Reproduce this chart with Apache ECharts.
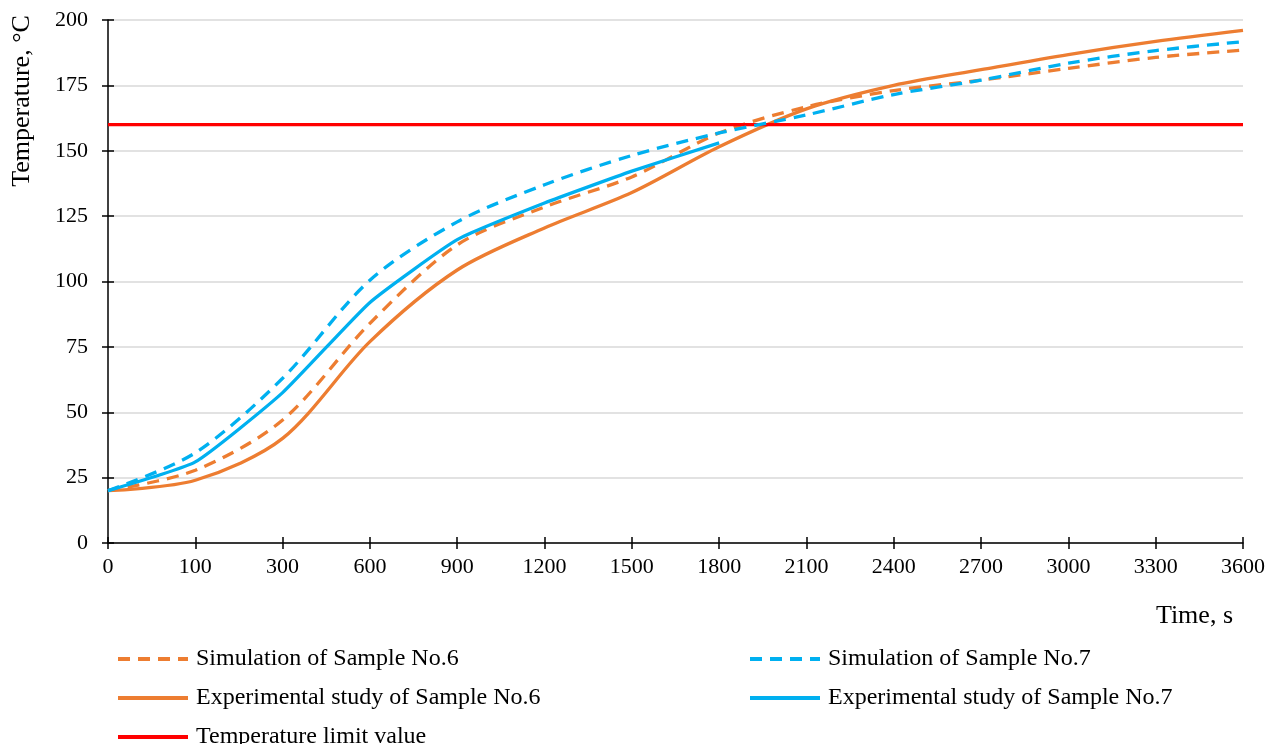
<!DOCTYPE html>
<html>
<head>
<meta charset="utf-8">
<script src="https://cdn.jsdelivr.net/npm/echarts@6/dist/echarts.min.js"></script>
<style>
  html, body { margin: 0; padding: 0; background: #fff; }
  #chart { width: 1280px; height: 744px; }
</style>
</head>
<body>
<div id="chart"></div>
<script>
// categories (time, s)
var times = ['0', '100', '300', '600', '900', '1200', '1500', '1800', '2100', '2400', '2700', '3000', '3300', '3600'];

// series values, °C
var sim6 = [20, 27.8, 47, 84, 114, 128.5, 140, 156.8, 166.8, 173, 177, 181.5, 185.7, 188.5];
var sim7 = [20, 34.5, 63, 100.5, 122.8, 137, 148.2, 156.8, 163.7, 171.5, 177, 183.5, 188.3, 191.7];
var exp6 = [20, 24, 40, 77, 104.4, 120.5, 134, 151.5, 166, 175, 181, 186.8, 191.8, 196];
var exp7 = [20, 31, 57.5, 92, 116, 130, 142.2, 153];
var limit = [160, 160, 160, 160, 160, 160, 160, 160, 160, 160, 160, 160, 160, 160];

var serif = '"Liberation Serif", "Times New Roman", serif';
var orange = '#ED7D31';
var blue = '#00B0F0';
var red = '#FF0000';

var chart = echarts.init(document.getElementById('chart'));

var legendBase = {
    orient: 'vertical', top: 642, height: 110, itemWidth: 70, itemHeight: 14, itemGap: 15,
    itemStyle: { opacity: 0 },
    lineStyle: { width: 4 },
    textStyle: { fontFamily: serif, fontSize: 24, color: '#000', padding: [0, 0, 0, 3] }
};

var option = {
    animation: false,
    textStyle: { fontFamily: serif, color: '#000' },
    grid: { left: 108, right: 37, top: 20, bottom: 201 },
    legend: [
        Object.assign({}, legendBase, {
            left: 111,
            data: ['Simulation of Sample No.6', 'Experimental study of Sample No.6', 'Temperature limit value']
        }),
        Object.assign({}, legendBase, {
            left: 743,
            data: ['Simulation of Sample No.7', 'Experimental study of Sample No.7']
        })
    ],
    xAxis: [
        {
            type: 'category', data: times, boundaryGap: false,
            axisLine: { lineStyle: { color: '#000', width: 1.5 } },
            axisTick: { show: true, length: 6, lineStyle: { color: '#000', width: 1.5 } },
            axisLabel: { color: '#000', fontSize: 22, fontFamily: serif, margin: 13 },
            splitLine: { show: false }
        },
        {
            type: 'category', data: times, boundaryGap: false, position: 'bottom',
            axisLine: { show: false },
            axisTick: { show: true, inside: true, length: 6, lineStyle: { color: '#000', width: 1.5 } },
            axisLabel: { show: false }
        }
    ],
    yAxis: [
        {
            type: 'value', min: 0, max: 200, interval: 25,
            axisLine: { show: true, lineStyle: { color: '#000', width: 1.5 } },
            axisTick: { show: true, length: 6, lineStyle: { color: '#000', width: 1.5 } },
            axisLabel: { color: '#000', fontSize: 22, fontFamily: serif, margin: 20 },
            splitLine: { show: true, lineStyle: { color: '#D9D9D9', width: 1.5 } }
        },
        {
            type: 'value', min: 0, max: 200, interval: 25, position: 'left',
            axisLine: { show: false },
            axisTick: { show: true, inside: true, length: 6, lineStyle: { color: '#000', width: 1.5 } },
            axisLabel: { show: false },
            splitLine: { show: false }
        }
    ],
    graphic: [
        {
            type: 'text', x: 1233, y: 616,
            style: { text: 'Time, s', font: '26px ' + serif, fill: '#000', align: 'right', verticalAlign: 'middle' }
        },
        {
            type: 'text', x: 22, y: 101, rotation: Math.PI / 2,
            style: { text: 'Temperature, °C', font: '26px ' + serif, fill: '#000', align: 'center', verticalAlign: 'middle' }
        }
    ],
    series: [
        {
            name: 'Simulation of Sample No.6', type: 'line', data: sim6, smooth: 0.3,
            showSymbol: false, symbol: 'none',
            lineStyle: { color: orange, width: 3.3, type: [12, 8] }, itemStyle: { color: orange }
        },
        {
            name: 'Experimental study of Sample No.6', type: 'line', data: exp6, smooth: 0.3,
            showSymbol: false, symbol: 'none',
            lineStyle: { color: orange, width: 3.3 }, itemStyle: { color: orange }
        },
        {
            name: 'Temperature limit value', type: 'line', data: limit,
            showSymbol: false, symbol: 'none',
            lineStyle: { color: red, width: 3.3 }, itemStyle: { color: red }
        },
        {
            name: 'Simulation of Sample No.7', type: 'line', data: sim7, smooth: 0.3,
            showSymbol: false, symbol: 'none',
            lineStyle: { color: blue, width: 3.3, type: [12, 8] }, itemStyle: { color: blue }
        },
        {
            name: 'Experimental study of Sample No.7', type: 'line', data: exp7, smooth: 0.15,
            showSymbol: false, symbol: 'none',
            lineStyle: { color: blue, width: 3.3 }, itemStyle: { color: blue }
        }
    ]
};

chart.setOption(option);
</script>
</body>
</html>
